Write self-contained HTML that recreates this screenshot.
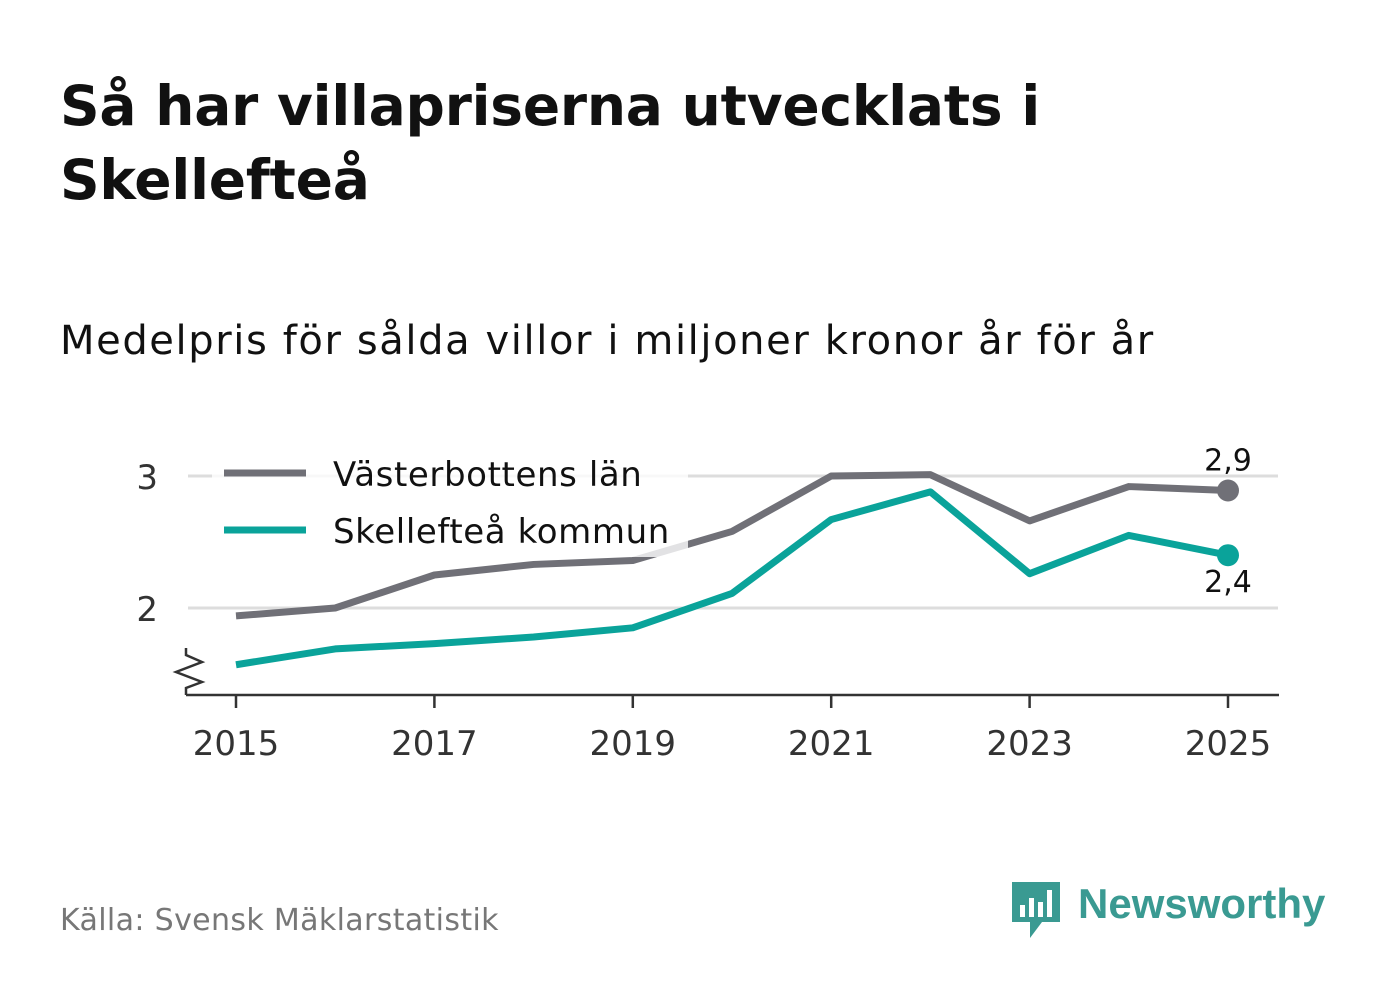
<!DOCTYPE html>
<html><head><meta charset="utf-8">
<style>
body{margin:0;width:1382px;height:999px;background:#fff;overflow:hidden;font-family:"DejaVu Sans","Liberation Sans",sans-serif;}
svg{position:absolute;left:0;top:0}
</style></head>
<body>
<svg id="c" width="1382" height="999">
<text x="60" y="125" font-size="55" font-weight="bold" fill="#111" font-family="DejaVu Sans, sans-serif" letter-spacing="-0.2">Så har villapriserna utvecklats i</text>
<text x="60" y="199" font-size="55" font-weight="bold" fill="#111" font-family="DejaVu Sans, sans-serif" letter-spacing="-0.2">Skellefteå</text>
<text x="60" y="354" font-size="40" fill="#111" letter-spacing="1.6">Medelpris för sålda villor i miljoner kronor år för år</text>
<g id="plot"></g>
<text x="60" y="930" font-size="30" fill="#777" letter-spacing="0.35">Källa: Svensk Mäklarstatistik</text>
<g>
<path d="M1012 882 h48 v40 h-18 l-12 16 v-16 h-18 z" fill="#3a9a92"/>
<rect x="1020" y="905" width="5" height="12" fill="#fff"/><rect x="1029" y="898" width="5" height="19" fill="#fff"/><rect x="1038" y="902" width="5" height="15" fill="#fff"/><rect x="1047" y="890" width="5" height="27" fill="#fff"/>
<text x="1078" y="918" font-size="42" font-weight="bold" fill="#3a9a92" font-family="Liberation Sans, sans-serif">Newsworthy</text>
</g>
</svg>
<script>
const years=[2015,2016,2017,2018,2019,2020,2021,2022,2023,2024,2025];
const vasterbotten=[1.94,2.0,2.25,2.33,2.36,2.58,3.0,3.01,2.66,2.92,2.89];
const skelleftea=[1.57,1.69,1.73,1.78,1.85,2.11,2.67,2.88,2.26,2.55,2.40];
const yTicks=[2,3];
const xTicks=[2015,2017,2019,2021,2023,2025];
const NS='http://www.w3.org/2000/svg';
const g=document.getElementById('plot');
const x=v=>236+(v-2015)*99.2;
const y=v=>608-(v-2)*132;
function mk(t,a,p){const e=document.createElementNS(NS,t);for(const k in a)e.setAttribute(k,a[k]);(p||g).appendChild(e);return e;}
yTicks.forEach(t=>{
 const l=mk('line',{x1:188,x2:1278,y1:y(t),y2:y(t),stroke:'#ddd','stroke-width':3});
 
 
 const tx=mk('text',{x:158,y:y(t)+13,'font-size':34,fill:'#333','text-anchor':'end'});tx.textContent=t;
 
 
});
const ax=mk('line',{x1:186,x2:1279,y1:695,y2:695,stroke:'#333','stroke-width':2.5});


const br=mk('path',{d:'M186 648 L186 655 L202 662 L176 672 L202 682 L186 688 L186 695',fill:'none',stroke:'#333','stroke-width':2.5});


xTicks.forEach(t=>{
 mk('line',{x1:x(t),x2:x(t),y1:695,y2:708,stroke:'#333','stroke-width':2.5});
 const tx=mk('text',{x:x(t),y:755,'font-size':34,fill:'#333','text-anchor':'middle'});tx.textContent=t;
 
 
});
function series(vals,col,name){
 const p=mk('polyline',{points:vals.map((v,i)=>x(years[i])+','+y(v)).join(' '),fill:'none',stroke:col,'stroke-width':7,'stroke-linejoin':'round'});
 
 
 const n=vals.length-1;
 const c=mk('circle',{cx:x(years[n]),cy:y(vals[n]),r:11,fill:col});
 
 
}
series(vasterbotten,'#707077','vasterbotten');
series(skelleftea,'#0aa39a','skelleftea');
const lb=mk('rect',{x:212,y:445,width:476,height:112,fill:'#fff','fill-opacity':0.8});


[['Västerbottens län','#707077',473],['Skellefteå kommun','#0aa39a',530]].forEach((d,i)=>{
 const gg=mk('g',{});
 
 
 mk('line',{x1:224,x2:306,y1:d[2],y2:d[2],stroke:d[1],'stroke-width':7},gg);
 const t=mk('text',{x:333,y:d[2]+13,'font-size':34,fill:'#111','letter-spacing':0.6},gg);t.textContent=d[0];
});
const n=years.length-1;
const l1=mk('text',{x:x(years[n]),y:y(vasterbotten[n])-20,'font-size':30,fill:'#111','text-anchor':'middle'});
l1.textContent=vasterbotten[n].toFixed(1).replace('.',',');


const l2=mk('text',{x:x(years[n]),y:y(skelleftea[n])+37,'font-size':30,fill:'#111','text-anchor':'middle'});
l2.textContent=skelleftea[n].toFixed(1).replace('.',',');


</script>
</body></html>
